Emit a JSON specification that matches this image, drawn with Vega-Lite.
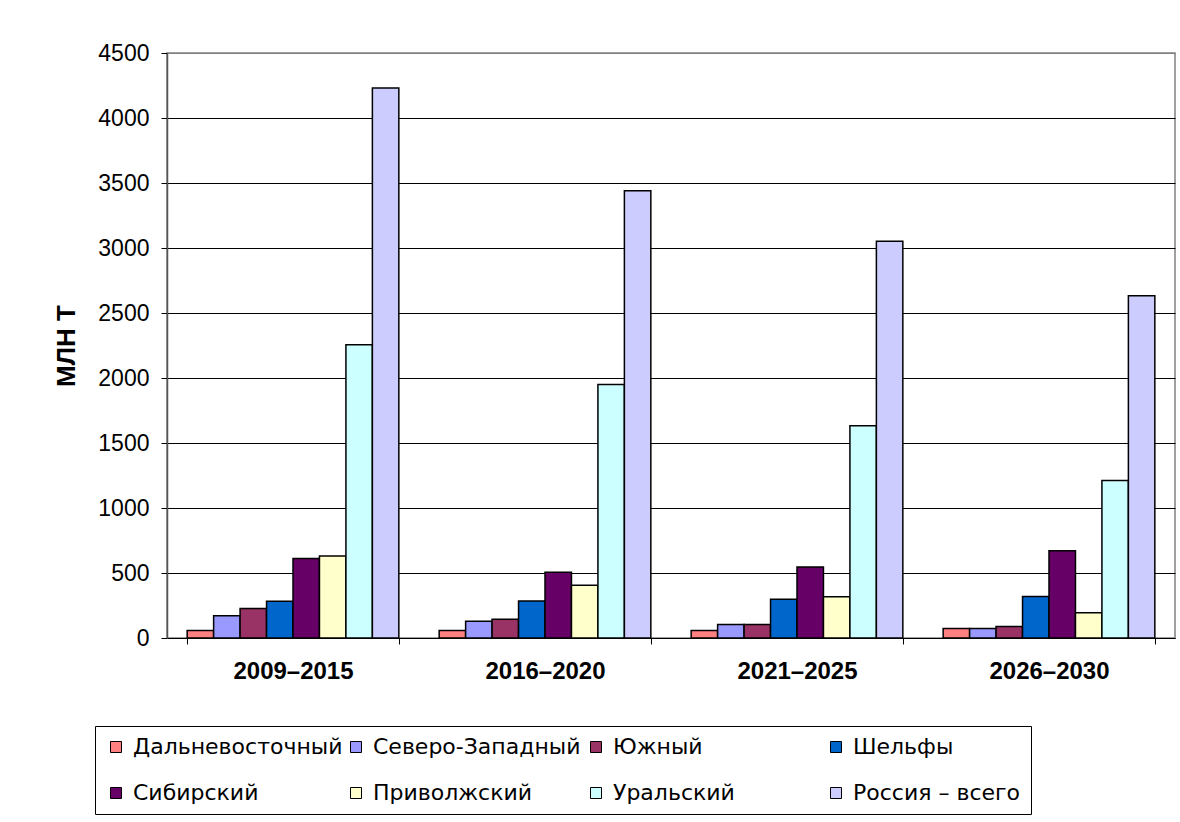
{
  "$schema": "https://vega.github.io/schema/vega-lite/v6.json",
  "width": 1008,
  "height": 585,
  "autosize": "none",
  "padding": {"left": 167, "top": 53, "right": 5, "bottom": 184},
  "background": "white",
  "config": {"font": "Liberation Sans", "view": {"stroke": "#808080", "strokeWidth": 1.5}},
  "data": {"values": [
    {"period": "2009–2015", "region": "Дальневосточный", "value": 57},
    {"period": "2009–2015", "region": "Северо-Западный", "value": 171},
    {"period": "2009–2015", "region": "Южный", "value": 227},
    {"period": "2009–2015", "region": "Шельфы", "value": 283},
    {"period": "2009–2015", "region": "Сибирский", "value": 611},
    {"period": "2009–2015", "region": "Приволжский", "value": 630},
    {"period": "2009–2015", "region": "Уральский", "value": 2255},
    {"period": "2009–2015", "region": "Россия – всего", "value": 4230},
    {"period": "2016–2020", "region": "Дальневосточный", "value": 57},
    {"period": "2016–2020", "region": "Северо-Западный", "value": 128},
    {"period": "2016–2020", "region": "Южный", "value": 144},
    {"period": "2016–2020", "region": "Шельфы", "value": 285},
    {"period": "2016–2020", "region": "Сибирский", "value": 505},
    {"period": "2016–2020", "region": "Приволжский", "value": 405},
    {"period": "2016–2020", "region": "Уральский", "value": 1950},
    {"period": "2016–2020", "region": "Россия – всего", "value": 3440},
    {"period": "2021–2025", "region": "Дальневосточный", "value": 57},
    {"period": "2021–2025", "region": "Северо-Западный", "value": 103},
    {"period": "2021–2025", "region": "Южный", "value": 103},
    {"period": "2021–2025", "region": "Шельфы", "value": 298},
    {"period": "2021–2025", "region": "Сибирский", "value": 546},
    {"period": "2021–2025", "region": "Приволжский", "value": 318},
    {"period": "2021–2025", "region": "Уральский", "value": 1632},
    {"period": "2021–2025", "region": "Россия – всего", "value": 3052},
    {"period": "2026–2030", "region": "Дальневосточный", "value": 74},
    {"period": "2026–2030", "region": "Северо-Западный", "value": 74},
    {"period": "2026–2030", "region": "Южный", "value": 88},
    {"period": "2026–2030", "region": "Шельфы", "value": 320},
    {"period": "2026–2030", "region": "Сибирский", "value": 672},
    {"period": "2026–2030", "region": "Приволжский", "value": 195},
    {"period": "2026–2030", "region": "Уральский", "value": 1212},
    {"period": "2026–2030", "region": "Россия – всего", "value": 2632}
  ]},
  "mark": {"type": "bar", "stroke": "black", "strokeWidth": 1.5},
  "encoding": {
    "x": {
      "field": "period", "type": "nominal",
      "sort": ["2009–2015", "2016–2020", "2021–2025", "2026–2030"],
      "scale": {"paddingInner": 0.16, "paddingOuter": 0.08},
      "axis": {"title": null, "labelAngle": 0, "labelFontSize": 24, "labelFontWeight": "bold", "labelColor": "black", "labelPadding": 15, "tickBand": "extent", "tickSize": 6, "tickColor": "black", "domainColor": "black", "grid": false}
    },
    "xOffset": {
      "field": "region", "type": "nominal",
      "sort": ["Дальневосточный", "Северо-Западный", "Южный", "Шельфы", "Сибирский", "Приволжский", "Уральский", "Россия – всего"],
      "scale": {"paddingInner": 0, "paddingOuter": 0}
    },
    "y": {
      "field": "value", "type": "quantitative",
      "scale": {"domain": [0, 4500], "nice": false},
      "axis": {
        "title": "МЛН Т", "format": "d", "values": [0, 500, 1000, 1500, 2000, 2500, 3000, 3500, 4000, 4500],
        "titleFontSize": 26, "titleFontWeight": "bold", "titleColor": "black", "titlePadding": 18,
        "labelFontSize": 23, "labelColor": "black", "labelPadding": 12,
        "tickSize": 6, "tickColor": "black", "domainColor": "#555", "domainWidth": 1.5,
        "grid": true, "gridOpacity": 1,
        "gridColor": {"condition": {"test": "datum.value === 4500", "value": "#808080"}, "value": "black"}
      }
    },
    "color": {
      "field": "region", "type": "nominal",
      "scale": {
        "domain": ["Дальневосточный", "Северо-Западный", "Южный", "Шельфы", "Сибирский", "Приволжский", "Уральский", "Россия – всего"],
        "range": ["#FF8080", "#9999FF", "#993366", "#0066CC", "#660066", "#FFFFCC", "#CCFFFF", "#CCCCFF"]
      },
      "legend": {
        "title": null, "orient": "none", "legendX": -72, "legendY": 673,
        "direction": "horizontal", "columns": 4, "gridAlign": "all",
        "columnPadding": 2, "rowPadding": 24, "padding": 10,
        "strokeColor": "black", "fillColor": "white",
        "symbolType": "square", "symbolSize": 121, "symbolStrokeColor": "black", "symbolStrokeWidth": 1,
        "labelFont": "DejaVu Sans", "labelFontSize": 22, "labelColor": "black", "labelOffset": 6, "labelLimit": 400
      }
    }
  }
}
